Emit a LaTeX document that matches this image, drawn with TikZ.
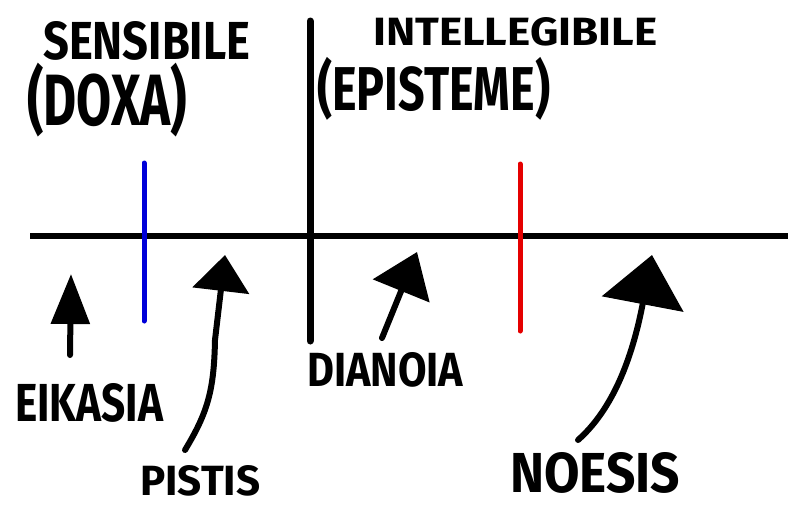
\documentclass[tikz,border=0pt]{standalone}
\usepackage{fontspec}
\setmainfont{Fira Sans}
\usetikzlibrary{arrows.meta}
\begin{document}
\begin{tikzpicture}[x=1pt,y=-1pt,
  lbl/.style={inner sep=0pt, anchor=north west, font=\bfseries},
  axis/.style={line width=6pt, black},
  divider/.style={line width=7pt, black, line cap=round},
  sub/.style={line width=5pt, line cap=round},
  pointer/.style={line width=6pt, line cap=round, black}]
\fill[white] (0,0) rectangle (788,506);
\useasboundingbox (0,0) rectangle (788,506);
% texts
\node[lbl] (sens) at (43,21) {\resizebox{207pt}{38pt}{SENSIBILE}};
\node[lbl] (doxa) at (27,63) {\resizebox*{160pt}{74pt}{(DOXA)}};
\node[lbl] (intel) at (373,17) {\resizebox{284pt}{28pt}{INTELLEGIBILE}};
\node[lbl] (epis) at (317,57) {\resizebox*{233pt}{63pt}{(EPISTEME)}};
\node[lbl] (eik) at (15,383) {\resizebox{148pt}{38pt}{EIKASIA}};
\node[lbl] (pis) at (140,465) {\resizebox{120pt}{30pt}{PISTIS}};
\node[lbl] (dia) at (307,352) {\resizebox{156pt}{34pt}{DIANOIA}};
\node[lbl] (noe) at (510,452) {\resizebox{170pt}{40pt}{NOESIS}};
% lines
\coordinate (hL) at (30,236);
\coordinate (hR) at (788,236);
\coordinate (vT) at (310,21);
\coordinate (vB) at (310,341);
\coordinate (bT) at (144,163);
\coordinate (bB) at (144,321);
\coordinate (rT) at (520,164);
\coordinate (rB) at (520,331);
\draw[axis] (hL) -- (hR);
\draw[divider] (vT) -- (vB);
\draw[sub, blue!85!black] (bT) -- (bB);
\draw[sub, red!90!black] (rT) -- (rB);
% arrows
\coordinate (eikS) at (70,355);
\coordinate (eikT) at (71,274);
\coordinate (pisS) at (185,450);
\coordinate (pisT) at (225,255);
\coordinate (diaS) at (382,338);
\coordinate (diaT) at (417,252);
\coordinate (noeS) at (578,440);
\coordinate (noeT) at (652,255);
\draw[pointer, -{Triangle[width=38pt,length=50pt]}] (eikS) -- (eikT);
\draw[pointer, -{Triangle[width=56pt,length=36pt]}] (pisS) .. controls (208,412) and (214,390) .. (215,340) -- (pisT);
\draw[pointer, -{Triangle[width=60pt,length=42pt]}] (diaS) -- (diaT);
\draw[pointer, -{Triangle[width=82pt,length=50pt]}] (noeS) .. controls (612,410) and (632,360) .. (noeT);
\end{tikzpicture}
\end{document}
